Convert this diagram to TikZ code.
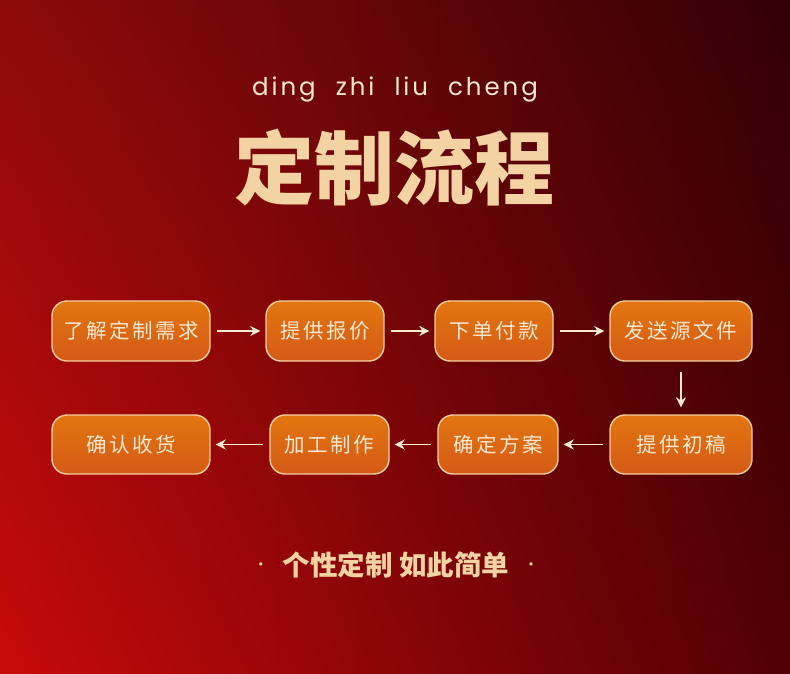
\documentclass[tikz,border=0pt]{standalone}
\usepackage{fontspec}
\usepackage{xcolor}
\usetikzlibrary{arrows.meta,shadings}
\newfontfamily\cjk{Noto Sans CJK SC}
\newfontfamily\cjkspaced[LetterSpace=12]{Noto Sans CJK SC}
\newfontfamily\pinyinfont[LetterSpace=12]{Poppins}
\definecolor{bgTL}{RGB}{142,10,10}
\definecolor{bgTR}{RGB}{50,0,4}
\definecolor{bgBL}{RGB}{200,10,10}
\definecolor{bgBR}{RGB}{80,0,4}
\definecolor{gold}{RGB}{243,211,163}
\definecolor{cream}{RGB}{250,232,210}
\definecolor{boxtop}{RGB}{226,118,15}
\definecolor{boxbot}{RGB}{213,90,23}
\definecolor{boxline}{RGB}{243,207,160}
\newcommand{\sepdot}{\raisebox{5pt}{\mdseries\fontsize{16}{20}\selectfont ·}}

\begin{document}
\begin{tikzpicture}[
    x=1pt, y=-1pt,
    flowbox/.style={rounded corners=15pt, draw=boxline, line width=1.4pt,
        top color=boxtop, bottom color=boxbot, minimum height=60pt,
        text=cream, font=\cjkspaced\fontsize{20.5}{24}\selectfont, inner sep=0pt},
    flowarrow/.style={draw=cream, line width=1.5pt, -{Stealth[length=10pt,width=10pt]},
        shorten <=6pt, shorten >=5pt}
]
% background
\shade[upper left=bgTL, upper right=bgTR, lower left=bgBL, lower right=bgBR]
    (0,0) rectangle (790,673);
\useasboundingbox (0,0) rectangle (790,673);

% heading
\node[text=cream, font=\pinyinfont\fontsize{24.5}{28}\selectfont] (pinyin) at (395,89)
    {ding\hspace{20pt}zhi\hspace{20pt}liu\hspace{20pt}cheng};
\node[text=gold, font=\cjk\bfseries\fontsize{80}{90}\selectfont] (title) at (394,168)
    {定制流程};

% row 1
\node[flowbox, minimum width=158pt] (need)    at (131,331) {了解定制需求};
\node[flowbox, minimum width=118pt] (quote)   at (325,331) {提供报价};
\node[flowbox, minimum width=118pt] (pay)     at (494,331) {下单付款};
\node[flowbox, minimum width=142pt] (files)   at (681,331) {发送源文件};
% row 2
\node[flowbox, minimum width=142pt, minimum height=59pt] (draft)   at (681,444.5) {提供初稿};
\node[flowbox, minimum width=120pt, minimum height=59pt] (plan)    at (498,444.5) {确定方案};
\node[flowbox, minimum width=119pt, minimum height=59pt] (make)    at (329.5,444.5) {加工制作};
\node[flowbox, minimum width=158pt, minimum height=59pt] (receive) at (131,444.5) {确认收货};

\draw[flowarrow] (need) -- (quote);
\draw[flowarrow] (quote) -- (pay);
\draw[flowarrow] (pay) -- (files);
\draw[flowarrow, shorten <=10pt, shorten >=7pt] (files) -- (draft);
\draw[flowarrow] (draft) -- (plan);
\draw[flowarrow] (plan) -- (make);
\draw[flowarrow] (make) -- (receive);

% slogan
\node[text=gold, font=\cjk\bfseries\fontsize{27.5}{32}\selectfont] (slogan) at (396,565)
    {\sepdot\hspace{14pt}个性定制 如此简单\hspace{14pt}\sepdot};
\end{tikzpicture}
\end{document}
